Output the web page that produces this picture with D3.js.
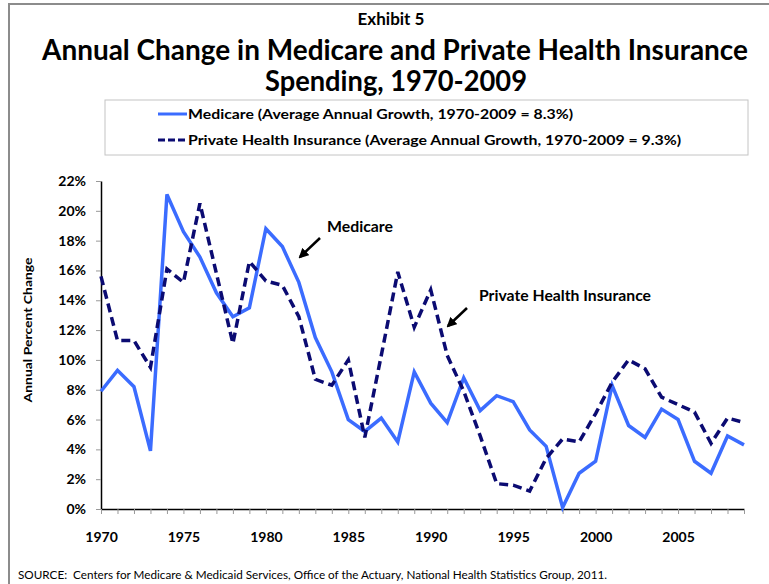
<!DOCTYPE html>
<html>
<head>
<meta charset="utf-8">
<script src="https://cdn.jsdelivr.net/npm/d3@7"></script>
<style>
  body { margin: 0; background: #fff; }
  text { font-family: Lato, "Open Sans", sans-serif; }
</style>
</head>
<body>
<div id="drawingArea"></div>
<script>
// Data
const years = [1970, 1971, 1972, 1973, 1974, 1975, 1976, 1977, 1978, 1979,
               1980, 1981, 1982, 1983, 1984, 1985, 1986, 1987, 1988, 1989,
               1990, 1991, 1992, 1993, 1994, 1995, 1996, 1997, 1998, 1999,
               2000, 2001, 2002, 2003, 2004, 2005, 2006, 2007, 2008, 2009];
const medicare = [7.9, 9.3, 8.2, 3.9, 21.1, 18.6, 16.9, 14.5, 12.9, 13.5,
                  18.8, 17.6, 15.2, 11.5, 9.2, 6.0, 5.2, 6.1, 4.5, 9.2,
                  7.1, 5.8, 8.8, 6.6, 7.6, 7.2, 5.3, 4.2, 0.1, 2.4,
                  3.2, 8.3, 5.6, 4.8, 6.7, 6.0, 3.2, 2.4, 4.9, 4.3];
const privateIns = [15.6, 11.3, 11.3, 9.5, 16.1, 15.2, 20.5, 15.8, 11.1, 16.6,
                    15.3, 15.0, 12.9, 8.7, 8.3, 10.0, 4.8, 10.3, 15.9, 12.2,
                    14.7, 10.3, 7.9, 4.9, 1.7, 1.6, 1.2, 3.4, 4.7, 4.5,
                    6.4, 8.5, 10.0, 9.4, 7.5, 7.0, 6.5, 4.4, 6.1, 5.8];
const yTicks = [0, 2, 4, 6, 8, 10, 12, 14, 16, 18, 20, 22];
const xLabelYears = [1970, 1975, 1980, 1985, 1990, 1995, 2000, 2005];
const legendLabels = [
    "Medicare (Average Annual Growth, 1970-2009 = 8.3%)",
    "Private Health Insurance (Average Annual Growth, 1970-2009 = 9.3%)"
];

const W = 769, H = 584;
const blue = "#3b6cff", navy = "#0b0b72";

const svg = d3.select("#drawingArea").append("svg")
    .attr("width", W)
    .attr("height", H);

// Outer frame (only top and left edges are visible)
svg.append("rect")
    .attr("x", 9).attr("y", 4)
    .attr("width", 900).attr("height", 700)
    .attr("fill", "none")
    .attr("stroke", "#8c8c8c")
    .attr("stroke-width", 2);

// Titles
svg.append("text")
    .attr("x", 391).attr("y", 25)
    .attr("text-anchor", "middle")
    .style("font-size", "17px").style("font-weight", "bold")
    .text("Exhibit 5");

svg.append("text")
    .attr("x", 395).attr("y", 60)
    .attr("text-anchor", "middle")
    .attr("textLength", 706).attr("lengthAdjust", "spacingAndGlyphs")
    .style("font-size", "28px").style("font-weight", "bold")
    .text("Annual Change in Medicare and Private Health Insurance");

svg.append("text")
    .attr("x", 396).attr("y", 91)
    .attr("text-anchor", "middle")
    .attr("textLength", 262).attr("lengthAdjust", "spacingAndGlyphs")
    .style("font-size", "29px").style("font-weight", "bold")
    .text("Spending, 1970-2009");

// Legend
svg.append("rect")
    .attr("x", 105).attr("y", 100)
    .attr("width", 643).attr("height", 55)
    .attr("fill", "#fff")
    .attr("stroke", "#c4c4c4");

const legendRows = [
    {label: legendLabels[0], color: blue, dash: null, y: 114, len: 385},
    {label: legendLabels[1], color: navy, dash: "7,3", y: 140, len: 493}
];
legendRows.forEach(r => {
    svg.append("line")
        .attr("x1", 158).attr("x2", 187)
        .attr("y1", r.y).attr("y2", r.y)
        .attr("stroke", r.color)
        .attr("stroke-width", 3)
        .attr("stroke-dasharray", r.dash);
    svg.append("text")
        .attr("x", 188).attr("y", r.y + 5)
        .attr("textLength", r.len).attr("lengthAdjust", "spacingAndGlyphs")
        .style("font-size", "14px").style("font-weight", "bold")
        .text(r.label);
});

// Scales
const x = d3.scaleLinear().domain([1970, 2009]).range([101, 744]);
const y = d3.scaleLinear().domain([0, 22]).range([509, 181]);

// Y axis
const yAxis = svg.append("g")
    .attr("transform", "translate(101,0)")
    .call(d3.axisLeft(y).tickValues(yTicks).tickFormat(d => d + "%")
        .tickSize(5).tickSizeOuter(0).tickPadding(10));
yAxis.select(".domain").attr("stroke", "#000").attr("stroke-width", 1.5);
yAxis.selectAll(".tick line").attr("stroke", "#999");
yAxis.selectAll(".tick text")
    .style("font-family", "Lato, sans-serif")
    .style("font-size", "14px").style("font-weight", "bold")
    .attr("fill", "#000");

// X axis, a tick for every year, labels every 5 years
const xAxis = svg.append("g")
    .attr("transform", "translate(0,509)")
    .call(d3.axisBottom(x).tickValues(years)
        .tickFormat(d => xLabelYears.includes(d) ? d : "")
        .tickSize(5).tickSizeOuter(0).tickPadding(18));
xAxis.select(".domain").attr("stroke", "#000").attr("stroke-width", 1.5);
xAxis.selectAll(".tick line").attr("stroke", "#999");
xAxis.selectAll(".tick text")
    .style("font-family", "Lato, sans-serif")
    .style("font-size", "14px").style("font-weight", "bold")
    .attr("fill", "#000");

// Y axis title
svg.append("text")
    .attr("transform", "translate(32,330) rotate(-90)")
    .attr("text-anchor", "middle")
    .attr("textLength", 145).attr("lengthAdjust", "spacingAndGlyphs")
    .style("font-size", "11.5px").style("font-weight", "bold")
    .text("Annual Percent Change");

// Lines
const line = d3.line()
    .x((d, i) => x(years[i]))
    .y(d => y(d));

svg.append("path")
    .datum(medicare)
    .attr("d", line)
    .attr("fill", "none")
    .attr("stroke", blue)
    .attr("stroke-width", 3.5)
    .attr("stroke-linejoin", "miter");

svg.append("path")
    .datum(privateIns)
    .attr("d", line)
    .attr("fill", "none")
    .attr("stroke", navy)
    .attr("stroke-width", 3.5)
    .attr("stroke-dasharray", "9,5");

// Arrow marker
svg.append("defs").append("marker")
    .attr("id", "arrow")
    .attr("viewBox", "0 0 10 10")
    .attr("refX", 8).attr("refY", 5)
    .attr("markerWidth", 4).attr("markerHeight", 4)
    .attr("orient", "auto")
    .append("path")
    .attr("d", "M0,0 L10,5 L0,10 Z")
    .attr("fill", "#000");

// Annotations
const notes = [
    {text: "Medicare", tx: 327, ty: 232, len: 66, x1: 320, y1: 238, x2: 300, y2: 257},
    {text: "Private Health Insurance", tx: 479, ty: 301, len: 172, x1: 467, y1: 308, x2: 448, y2: 326}
];
notes.forEach(n => {
    svg.append("text")
        .attr("x", n.tx).attr("y", n.ty)
        .attr("textLength", n.len).attr("lengthAdjust", "spacingAndGlyphs")
        .style("font-size", "15px").style("font-weight", "bold")
        .text(n.text);
    svg.append("line")
        .attr("x1", n.x1).attr("y1", n.y1)
        .attr("x2", n.x2).attr("y2", n.y2)
        .attr("stroke", "#000")
        .attr("stroke-width", 2.5)
        .attr("marker-end", "url(#arrow)");
});

// Source note
svg.append("text")
    .attr("x", 18).attr("y", 579)
    .attr("textLength", 589).attr("lengthAdjust", "spacingAndGlyphs")
    .style("font-size", "11px")
    .style("white-space", "pre")
    .text("SOURCE:  Centers for Medicare & Medicaid Services, Office of the Actuary, National Health Statistics Group, 2011.");
</script>
</body>
</html>
